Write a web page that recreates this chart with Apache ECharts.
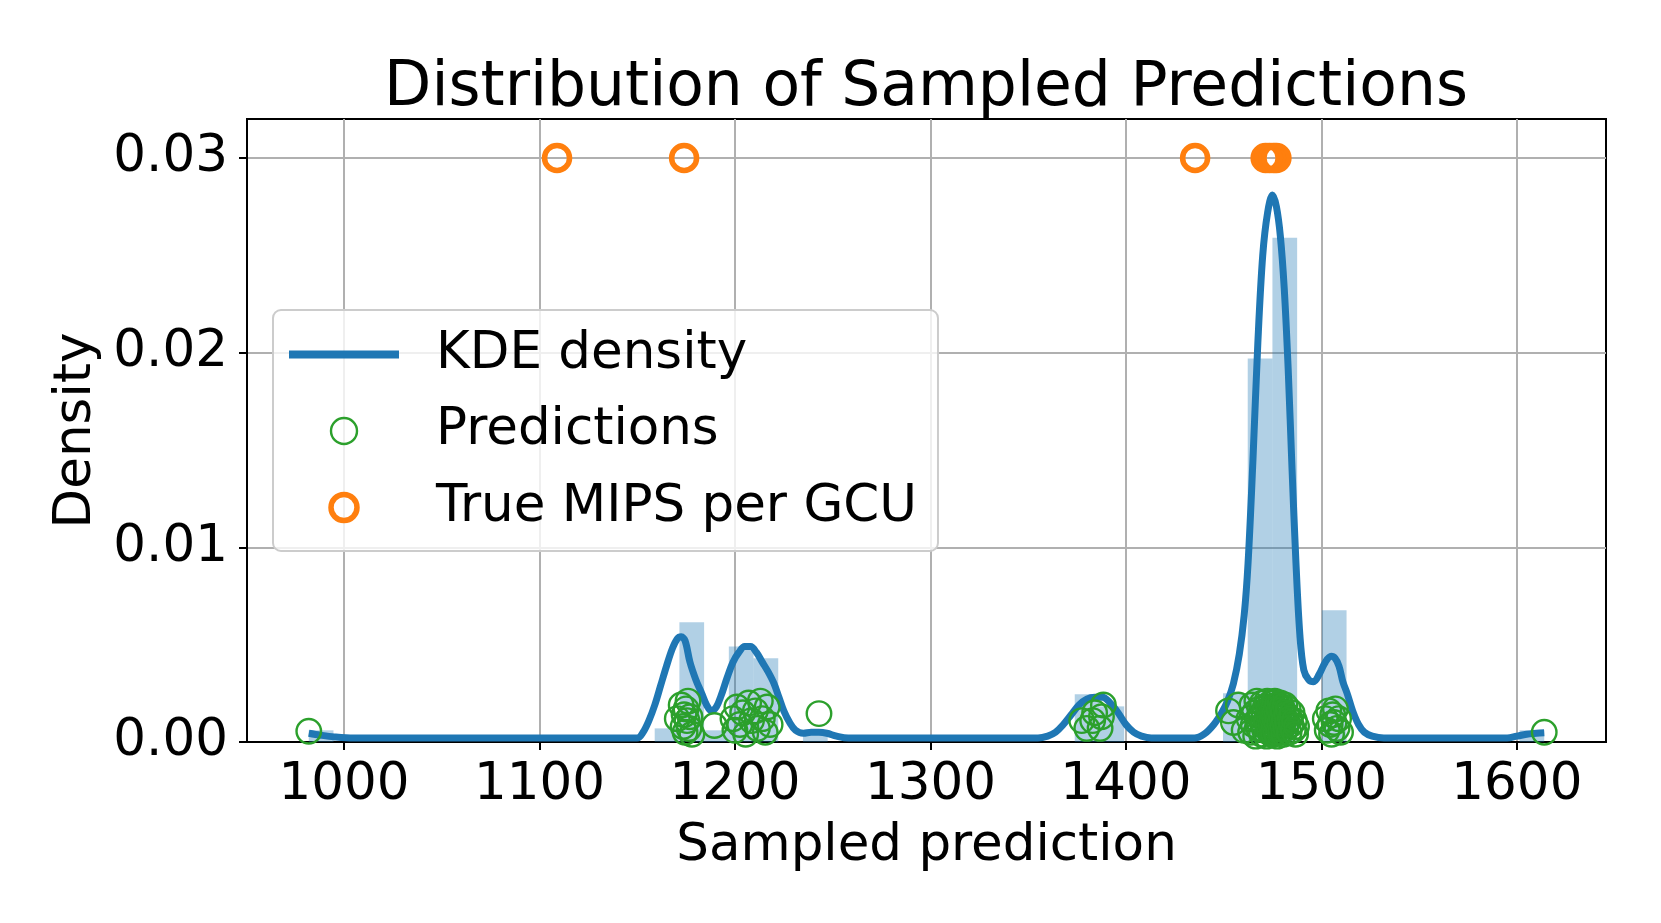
<!DOCTYPE html>
<html>
<head>
<meta charset="utf-8">
<title>Distribution of Sampled Predictions</title>
<script src="https://cdn.jsdelivr.net/npm/echarts@6.0.0/dist/echarts.min.js"></script>
<style>
    html, body { margin: 0; padding: 0; background: #fff; }
    #chart { width: 1661px; height: 923px; }
</style>
</head>
<body>
<div id="chart"></div>
<script>
var xTicks = [1000, 1100, 1200, 1300, 1400, 1500, 1600];
var yTicks = [0, 0.01, 0.02, 0.03];

// histogram bins (only the non-empty ones), density heights
var binLo = [982.0, 1158.96, 1171.6, 1184.24, 1196.88, 1209.52, 1234.8, 1373.84, 1386.48, 1449.68, 1462.32, 1474.96, 1500.24, 1601.36];
var binHi = [994.64, 1171.6, 1184.24, 1196.88, 1209.52, 1222.16, 1247.44, 1386.48, 1399.12, 1462.32, 1474.96, 1487.6, 1512.88, 1614.0];
var binDensity = [0.0006, 0.0007, 0.00615, 0.0006, 0.0049, 0.0043, 0.0006, 0.00245, 0.00183, 0.0025, 0.0197, 0.0259, 0.00677, 0.0006];

// KDE curve
var kdeCurve = [
    [982, 0.00045], [988, 0.00035], [995, 0.00026], [1005, 0.0002], [1100, 0.0002],
    [1150, 0.0002], [1153, 0.0005], [1156, 0.0011], [1159, 0.0019], [1162, 0.0029],
    [1165, 0.0039], [1168, 0.0048], [1170.5, 0.0053], [1172.5, 0.0054], [1174.5, 0.0052],
    [1177, 0.0041], [1180, 0.0032], [1183, 0.0025], [1185.5, 0.0019], [1188, 0.0016],
    [1190.5, 0.0018], [1193, 0.0024], [1196, 0.0033], [1199, 0.0041], [1202, 0.0046],
    [1205, 0.0049], [1208, 0.0049], [1211, 0.0046], [1214, 0.0041], [1217, 0.0036],
    [1220, 0.0030], [1222.5, 0.0023], [1225, 0.0016], [1228, 0.0010], [1231, 0.0006],
    [1235, 0.00045], [1239, 0.0005], [1243, 0.0005], [1247, 0.00045], [1252, 0.0003],
    [1258, 0.0002], [1300, 0.0002], [1355, 0.0002], [1360, 0.0003], [1364, 0.0005],
    [1368, 0.0009], [1372, 0.0014], [1376, 0.0019], [1380, 0.0022], [1384, 0.0023],
    [1388, 0.0023], [1392, 0.0020], [1396, 0.0015], [1400, 0.0009], [1404, 0.0005],
    [1408, 0.0003], [1413, 0.0002], [1435, 0.0002], [1440, 0.0004], [1445, 0.0009],
    [1449, 0.0015], [1452, 0.0021], [1455, 0.0030], [1458, 0.0045], [1460.5, 0.0065],
    [1462.5, 0.0092], [1465, 0.0145], [1467.5, 0.0205], [1470, 0.0250], [1472.5, 0.0272],
    [1475, 0.0281], [1477, 0.0275], [1479, 0.0260], [1481, 0.0233], [1483, 0.0192],
    [1485, 0.0140], [1487, 0.0092], [1489, 0.0055], [1491, 0.0037], [1493.5, 0.0032],
    [1496, 0.0031], [1499, 0.0035], [1502, 0.0041], [1505, 0.0044], [1507, 0.0043],
    [1509, 0.0039], [1511, 0.0031], [1513.5, 0.0024], [1516, 0.0016], [1519, 0.0009],
    [1522, 0.0005], [1526, 0.0003], [1532, 0.0002], [1595, 0.0002], [1600, 0.0003],
    [1605, 0.0004], [1610, 0.00045], [1614, 0.00048]
];

// sampled predictions (x, jittered y)
var predictions = [
    [982, 0.00055],
    [1170.5, 0.0012],
    [1172.5, 0.0019], [1173.5, 0.0008], [1174, 0.0014], [1174.5, 0.0005], [1175, 0.0017],
    [1175.5, 0.0011], [1176, 0.0021], [1176.5, 0.0007], [1177, 0.0013], [1178, 0.0004],
    [1189.5, 0.00085],
    [1199, 0.0012], [1200, 0.0006], [1201, 0.0018], [1202.5, 0.0009], [1204, 0.0015],
    [1205.5, 0.0004], [1207, 0.0020], [1208.5, 0.0011],
    [1210.5, 0.0016], [1211.5, 0.0007], [1213, 0.0021], [1214, 0.0012], [1215.5, 0.0005],
    [1216.5, 0.0018], [1218, 0.0009],
    [1243, 0.00146],
    [1377.4, 0.0011], [1380, 0.0007], [1383, 0.0011], [1384, 0.0015],
    [1386.8, 0.0007], [1388.5, 0.0019], [1387.5, 0.0013],
    [1452.5, 0.0016], [1455, 0.0010], [1457.5, 0.0019], [1460.5, 0.0006],
    [1463.0, 0.0012], [1463.8, 0.0005], [1464.5, 0.0019], [1465.2, 0.0009], [1465.8, 0.0015],
    [1466.4, 0.0003], [1467.0, 0.0021], [1467.5, 0.0011], [1468.0, 0.0007], [1468.5, 0.0017],
    [1469.0, 0.0013], [1469.4, 0.0004], [1469.8, 0.0020], [1470.2, 0.0009], [1470.6, 0.0015],
    [1471.0, 0.0006], [1471.3, 0.0018], [1471.7, 0.0011], [1472.0, 0.0003], [1472.3, 0.0021],
    [1472.6, 0.0014], [1472.9, 0.0008], [1473.2, 0.0017], [1473.5, 0.0005], [1473.8, 0.0012],
    [1474.0, 0.0020], [1474.2, 0.0009], [1474.4, 0.0015], [1474.6, 0.0004], [1474.7, 0.0018],
    [1474.8, 0.0011], [1474.9, 0.0007],
    [1475.1, 0.0016], [1475.2, 0.0006], [1475.3, 0.0020], [1475.4, 0.0010], [1475.5, 0.0013],
    [1475.6, 0.0004], [1475.7, 0.0018], [1475.8, 0.0008], [1476.0, 0.0015], [1476.2, 0.0021],
    [1476.4, 0.0011], [1476.6, 0.0005], [1476.8, 0.0017], [1477.0, 0.0009], [1477.2, 0.0014],
    [1477.4, 0.0003], [1477.6, 0.0019], [1477.8, 0.0012], [1478.0, 0.0007], [1478.3, 0.0016],
    [1478.6, 0.0010], [1478.9, 0.0020], [1479.2, 0.0005], [1479.5, 0.0013], [1479.8, 0.0018],
    [1480.1, 0.0008], [1480.4, 0.0015], [1480.7, 0.0004], [1481.0, 0.0011], [1481.4, 0.0019],
    [1481.8, 0.0007], [1482.2, 0.0014], [1482.6, 0.0010], [1483.0, 0.0017], [1483.5, 0.0005],
    [1484.0, 0.0012], [1484.5, 0.0009], [1485.0, 0.0015], [1485.6, 0.0006], [1486.2, 0.0011],
    [1486.8, 0.0004], [1487.3, 0.0008],
    [1502.0, 0.0012], [1503.0, 0.0006], [1503.8, 0.0016], [1504.5, 0.0009], [1505.2, 0.0004],
    [1505.8, 0.0014], [1506.5, 0.0010], [1507.2, 0.0017], [1508.0, 0.0007], [1508.8, 0.0012],
    [1509.8, 0.0005],
    [1614, 0.0005]
];

// true MIPS per GCU values, all drawn at y = 0.03
var trueMips = [1109, 1174, 1435.4, 1471.5, 1473.5, 1475.5, 1477];
var trueLevel = 0.03;

var font = 'DejaVu Sans';
var fs = 51.5;
var blue = '#1f77b4', green = '#2ca02c', orange = '#ff7f0e';

var histData = binLo.map(function (lo, i) {
    return [lo, binHi[i], binDensity[i]];
});
var trueData = trueMips.map(function (x) {
    return [x, trueLevel];
});

var chartDom = document.getElementById('chart');
var myChart = echarts.init(chartDom, null, { renderer: 'canvas' });

var option = {
    animation: false,
    backgroundColor: '#fff',
    textStyle: { fontFamily: font },
    title: {
        text: 'Distribution of Sampled Predictions',
        left: 926,
        top: 58,
        padding: 0,
        textAlign: 'center',
        textStyle: { fontFamily: font, fontSize: 61.5, fontWeight: 'normal', color: '#000' }
    },
    grid: {
        left: 247,
        top: 119,
        right: 55,
        bottom: 181,
        show: true,
        borderColor: '#000',
        borderWidth: 2,
        containLabel: false
    },
    legend: {
        orient: 'vertical',
        left: 273,
        top: 310,
        padding: [18.5, 21, 17.5, 16],
        itemGap: 24.5,
        itemWidth: 110,
        itemHeight: 26,
        selectedMode: false,
        backgroundColor: 'rgba(255,255,255,0.8)',
        borderColor: '#cccccc',
        borderWidth: 2,
        borderRadius: 8,
        textStyle: { fontFamily: font, fontSize: fs, color: '#000', padding: [0, 0, 0, 32] },
        data: [
            { name: 'KDE density', icon: 'path://M0,0 L110,0 L110,8 L0,8 Z', itemStyle: { color: blue, borderWidth: 0 } },
            { name: 'Predictions', icon: 'circle', itemStyle: { color: 'rgba(0,0,0,0)', borderColor: green, borderWidth: 2.4 } },
            { name: 'True MIPS per GCU', icon: 'circle', itemStyle: { color: 'rgba(0,0,0,0)', borderColor: orange, borderWidth: 5.5 } }
        ]
    },
    xAxis: {
        type: 'value',
        min: 950.4,
        max: 1645.6,
        name: 'Sampled prediction',
        nameLocation: 'middle',
        nameGap: 79,
        nameTextStyle: { fontFamily: font, fontSize: fs, color: '#000' },
        axisLine: { show: true, lineStyle: { color: '#000', width: 2 } },
        axisTick: { show: true, inside: false, length: 8, customValues: xTicks, lineStyle: { color: '#000', width: 2 } },
        axisLabel: {
            fontFamily: font, fontSize: fs, color: '#000', margin: 18, customValues: xTicks,
            formatter: function (value) {
                return String(value);
            }
        },
        splitLine: { show: true, lineStyle: { color: '#b0b0b0', width: 2 } }
    },
    yAxis: {
        type: 'value',
        min: 0,
        max: 0.032,
        interval: 0.01,
        name: 'Density',
        nameLocation: 'middle',
        nameGap: 144,
        nameTextStyle: { fontFamily: font, fontSize: fs, color: '#000' },
        axisLine: { show: true, lineStyle: { color: '#000', width: 2 } },
        axisTick: { show: true, inside: false, length: 8, customValues: yTicks, lineStyle: { color: '#000', width: 2 } },
        axisLabel: {
            fontFamily: font, fontSize: fs, color: '#000', margin: 19, customValues: yTicks,
            formatter: function (value) {
                return value.toFixed(2);
            }
        },
        splitLine: { show: true, lineStyle: { color: '#b0b0b0', width: 2 } }
    },
    series: [{
        type: 'custom',
        name: 'hist',
        z: 1,
        clip: true,
        silent: true,
        encode: { x: [0, 1], y: 2 },
        renderItem: function (params, api) {
            var p0 = api.coord([api.value(0), api.value(2)]);
            var p1 = api.coord([api.value(1), 0]);
            return {
                type: 'rect',
                shape: { x: p0[0], y: p0[1], width: p1[0] - p0[0], height: p1[1] - p0[1] },
                style: { fill: 'rgba(31,119,180,0.35)' }
            };
        },
        data: histData
    }, {
        type: 'line',
        name: 'KDE density',
        z: 2,
        smooth: 0.35,
        showSymbol: false,
        symbol: 'none',
        lineStyle: { color: blue, width: 7 },
        itemStyle: { color: blue },
        data: kdeCurve
    }, {
        type: 'scatter',
        name: 'Predictions',
        z: 3,
        symbol: 'circle',
        symbolSize: 24.5,
        itemStyle: { color: 'rgba(0,0,0,0)', borderColor: green, borderWidth: 2.4, opacity: 1 },
        emphasis: { disabled: true },
        data: predictions
    }, {
        type: 'scatter',
        name: 'True MIPS per GCU',
        z: 4,
        symbol: 'circle',
        symbolSize: 25,
        itemStyle: { color: 'rgba(0,0,0,0)', borderColor: orange, borderWidth: 5.5, opacity: 1 },
        emphasis: { disabled: true },
        data: trueData
    }]
};

option && myChart.setOption(option);

window.onresize = function () {
    myChart.resize();
};
</script>
</body>
</html>
